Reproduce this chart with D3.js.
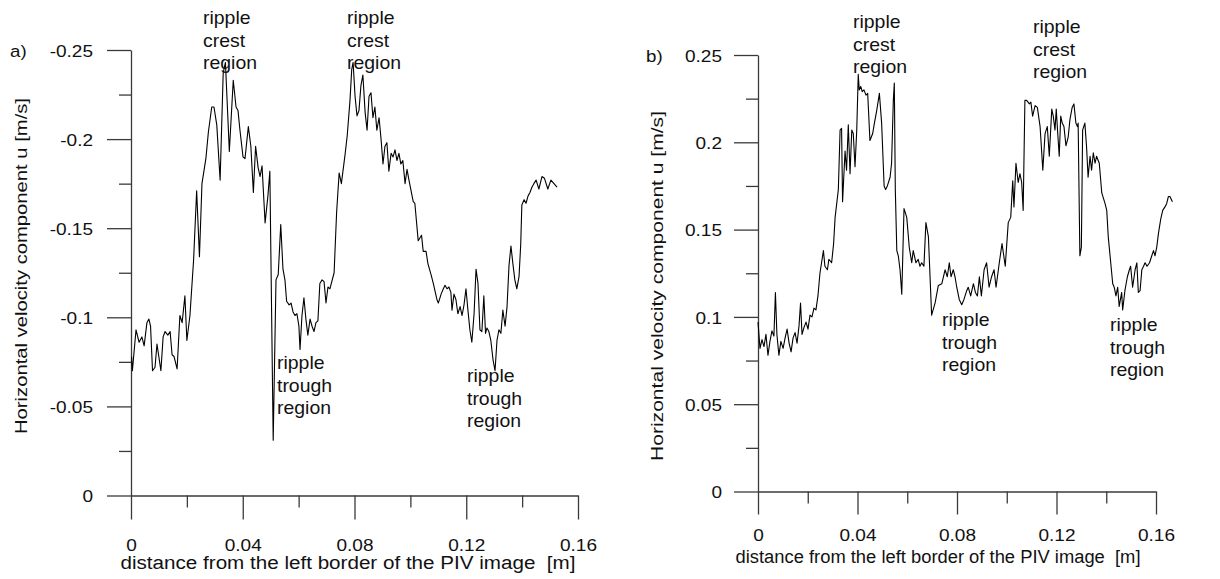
<!DOCTYPE html>
<html>
<head>
<meta charset="utf-8">
<script src="https://cdn.jsdelivr.net/npm/d3@7/dist/d3.min.js"></script>
<style>
  html, body { margin: 0; padding: 0; background: #fff; }
  svg { display: block; font-family: "Liberation Sans", Arial, sans-serif; }
</style>
</head>
<body>
<div class="canva"></div>
<script>
// ---- data ----
// a) distance [m] and u [m/s] (negative, axis reversed)
const leftX = [0.0002,0.0005,0.0018,0.0029,0.0039,0.0047,0.0057,0.0064,0.0070,0.0077,0.0086,0.0093,0.0107,0.0115,0.0122,0.0132,0.0140,0.0147,0.0154,0.0165,
  0.0175,0.0183,0.0193,0.0200,0.0211,0.0224,0.0235,0.0245,0.0254,0.0268,0.0277,0.0289,0.0297,0.0307,0.0319,0.0330,0.0338,0.0352,0.0366,0.0376,
  0.0383,0.0390,0.0401,0.0408,0.0420,0.0429,0.0438,0.0446,0.0455,0.0462,0.0469,0.0480,0.0490,0.0497,0.0509,0.0519,0.0527,0.0536,0.0544,0.0551,
  0.0557,0.0566,0.0573,0.0580,0.0587,0.0594,0.0601,0.0605,0.0612,0.0619,0.0626,0.0633,0.0641,0.0648,0.0655,0.0662,0.0669,0.0676,0.0684,0.0691,
  0.0698,0.0705,0.0712,0.0727,0.0736,0.0745,0.0753,0.0766,0.0774,0.0784,0.0790,0.0795,0.0802,0.0809,0.0816,0.0823,0.0830,0.0838,0.0845,0.0852,
  0.0859,0.0866,0.0873,0.0880,0.0888,0.0895,0.0902,0.0909,0.0916,0.0923,0.0931,0.0938,0.0945,0.0952,0.0959,0.0966,0.0973,0.0981,0.0988,0.0995,
  0.1010,0.1016,0.1028,0.1040,0.1046,0.1056,0.1063,0.1074,0.1082,0.1095,0.1100,0.1110,0.1118,0.1124,0.1131,0.1138,0.1145,0.1149,0.1156,0.1163,
  0.1170,0.1178,0.1185,0.1192,0.1199,0.1206,0.1213,0.1220,0.1228,0.1235,0.1242,0.1249,0.1256,0.1263,0.1269,0.1274,0.1281,0.1288,0.1296,0.1303,
  0.1310,0.1317,0.1324,0.1331,0.1339,0.1346,0.1353,0.1360,0.1367,0.1374,0.1381,0.1389,0.1395,0.1399,0.1407,0.1414,0.1421,0.1428,0.1435,0.1442,
  0.1450,0.1460,0.1471,0.1480,0.1492,0.1503,0.1514,0.1525];
const leftU = [-0.078,-0.070,-0.093,-0.086,-0.089,-0.084,-0.097,-0.099,-0.095,-0.070,-0.072,-0.085,-0.070,-0.089,-0.092,-0.090,-0.092,-0.079,-0.078,-0.071,
  -0.101,-0.097,-0.112,-0.087,-0.101,-0.132,-0.171,-0.134,-0.175,-0.189,-0.204,-0.218,-0.218,-0.208,-0.177,-0.237,-0.243,-0.193,-0.233,-0.218,
  -0.216,-0.205,-0.190,-0.189,-0.207,-0.196,-0.170,-0.196,-0.184,-0.179,-0.185,-0.153,-0.168,-0.182,-0.031,-0.121,-0.124,-0.152,-0.127,-0.121,
  -0.109,-0.107,-0.108,-0.103,-0.101,-0.102,-0.095,-0.082,-0.101,-0.111,-0.099,-0.090,-0.099,-0.095,-0.092,-0.097,-0.098,-0.119,-0.121,-0.120,
  -0.108,-0.117,-0.116,-0.125,-0.159,-0.181,-0.175,-0.191,-0.202,-0.222,-0.239,-0.243,-0.224,-0.213,-0.216,-0.230,-0.236,-0.215,-0.205,-0.224,
  -0.226,-0.212,-0.218,-0.205,-0.212,-0.200,-0.186,-0.196,-0.198,-0.182,-0.192,-0.190,-0.194,-0.188,-0.192,-0.186,-0.188,-0.175,-0.183,-0.177,
  -0.165,-0.164,-0.143,-0.146,-0.137,-0.137,-0.130,-0.124,-0.119,-0.110,-0.108,-0.113,-0.116,-0.118,-0.116,-0.117,-0.114,-0.104,-0.113,-0.110,
  -0.102,-0.106,-0.101,-0.107,-0.116,-0.104,-0.093,-0.086,-0.102,-0.127,-0.119,-0.093,-0.092,-0.112,-0.091,-0.094,-0.092,-0.087,-0.076,-0.070,
  -0.087,-0.093,-0.091,-0.104,-0.095,-0.106,-0.129,-0.140,-0.130,-0.121,-0.116,-0.123,-0.141,-0.163,-0.166,-0.164,-0.168,-0.170,-0.173,-0.175,
  -0.177,-0.172,-0.179,-0.178,-0.172,-0.177,-0.175,-0.173];

// b) distance [m] and u [m/s]
const rightX = [0.0000,0.0008,0.0016,0.0024,0.0032,0.0040,0.0048,0.0056,0.0064,0.0070,0.0076,0.0084,0.0092,0.0101,0.0109,0.0117,0.0125,0.0133,0.0141,0.0149,
  0.0157,0.0165,0.0171,0.0177,0.0185,0.0193,0.0201,0.0209,0.0217,0.0225,0.0233,0.0241,0.0249,0.0263,0.0269,0.0279,0.0285,0.0296,0.0304,0.0310,
  0.0323,0.0330,0.0336,0.0340,0.0350,0.0356,0.0363,0.0370,0.0377,0.0383,0.0390,0.0397,0.0403,0.0407,0.0413,0.0419,0.0426,0.0434,0.0441,0.0450,
  0.0461,0.0468,0.0477,0.0488,0.0497,0.0507,0.0513,0.0520,0.0531,0.0537,0.0544,0.0548,0.0552,0.0558,0.0564,0.0571,0.0578,0.0587,0.0598,0.0608,
  0.0618,0.0624,0.0635,0.0644,0.0651,0.0658,0.0667,0.0675,0.0685,0.0698,0.0712,0.0725,0.0739,0.0752,0.0761,0.0769,0.0776,0.0785,0.0792,0.0799,
  0.0809,0.0819,0.0828,0.0839,0.0845,0.0855,0.0866,0.0874,0.0882,0.0890,0.0898,0.0909,0.0919,0.0929,0.0939,0.0949,0.0957,0.0970,0.0981,0.0994,
  0.1006,0.1016,0.1024,0.1029,0.1037,0.1046,0.1053,0.1060,0.1066,0.1073,0.1080,0.1091,0.1097,0.1104,0.1114,0.1123,0.1134,0.1145,0.1154,0.1163,
  0.1171,0.1181,0.1187,0.1194,0.1199,0.1205,0.1211,0.1217,0.1223,0.1230,0.1238,0.1247,0.1254,0.1263,0.1270,0.1278,0.1284,0.1287,0.1294,0.1300,
  0.1305,0.1314,0.1321,0.1327,0.1335,0.1341,0.1348,0.1355,0.1361,0.1372,0.1382,0.1395,0.1402,0.1408,0.1418,0.1426,0.1432,0.1439,0.1446,0.1452,
  0.1462,0.1466,0.1475,0.1485,0.1493,0.1498,0.1506,0.1516,0.1523,0.1529,0.1536,0.1543,0.1550,0.1556,0.1564,0.1574,0.1583,0.1590,0.1596,0.1603,
  0.1610,0.1619,0.1627,0.1636,0.1643,0.1650,0.1656,0.1666];
const rightU = [0.097,0.082,0.087,0.083,0.090,0.078,0.086,0.092,0.089,0.114,0.090,0.078,0.086,0.082,0.088,0.093,0.085,0.080,0.088,0.091,
  0.085,0.095,0.108,0.090,0.094,0.097,0.093,0.101,0.100,0.105,0.104,0.112,0.125,0.138,0.129,0.127,0.133,0.131,0.142,0.157,
  0.173,0.207,0.208,0.166,0.195,0.184,0.210,0.182,0.207,0.205,0.186,0.207,0.239,0.230,0.232,0.229,0.230,0.227,0.228,0.201,
  0.205,0.211,0.218,0.228,0.211,0.175,0.173,0.175,0.180,0.188,0.224,0.234,0.173,0.138,0.135,0.127,0.113,0.162,0.157,0.140,
  0.131,0.138,0.131,0.133,0.129,0.131,0.129,0.154,0.146,0.101,0.108,0.118,0.119,0.127,0.123,0.131,0.123,0.127,0.123,0.117,
  0.110,0.107,0.110,0.115,0.117,0.112,0.119,0.114,0.112,0.123,0.112,0.127,0.131,0.117,0.123,0.127,0.117,0.131,0.142,0.129,
  0.154,0.157,0.178,0.163,0.188,0.177,0.182,0.177,0.161,0.224,0.224,0.222,0.223,0.215,0.221,0.220,0.209,0.184,0.205,0.209,
  0.192,0.219,0.215,0.207,0.219,0.205,0.192,0.215,0.211,0.209,0.198,0.203,0.213,0.220,0.222,0.211,0.209,0.211,0.135,0.140,
  0.207,0.211,0.197,0.180,0.192,0.184,0.194,0.188,0.192,0.188,0.171,0.165,0.161,0.146,0.131,0.119,0.117,0.112,0.117,0.106,
  0.114,0.104,0.115,0.123,0.127,0.129,0.117,0.127,0.131,0.114,0.115,0.127,0.129,0.131,0.129,0.131,0.135,0.138,0.135,0.140,
  0.148,0.156,0.161,0.163,0.165,0.169,0.169,0.166];

// ticks
const xTicks = [0, 0.04, 0.08, 0.12, 0.16];
const xTickLabels = ["0", "0.04", "0.08", "0.12", "0.16"];
const xMinorTicks = [0.02, 0.06, 0.10, 0.14];
const leftYTicks = [0, -0.05, -0.1, -0.15, -0.2, -0.25];
const leftYTickLabels = ["0", "-0.05", "-0.1", "-0.15", "-0.2", "-0.25"];
const leftYMinor = [-0.025, -0.075, -0.125, -0.175, -0.225];
const rightYTicks = [0, 0.05, 0.1, 0.15, 0.2, 0.25];
const rightYTickLabels = ["0", "0.05", "0.1", "0.15", "0.2", "0.25"];
const rightYMinor = [0.025, 0.075, 0.125, 0.175, 0.225];

const xTitle = "distance from the left border of the PIV image\u00a0\u00a0[m]";
const yTitle = "Horizontal velocity component u [m/s]";

const width = 1220, height = 579;
const svg = d3.select(".canva").append("svg")
    .attr("width", width)
    .attr("height", height);

const axisColor = "#3a3a3a";
const textColor = "#111";

// text a little wider than the font (the picture is stretched)
function stretchedText(parent, x, y, str, size, sx) {
    return parent.append("text")
        .attr("transform", `translate(${x},${y}) scale(${sx},1)`)
        .attr("font-size", size)
        .attr("fill", textColor)
        .text(str);
}

function drawPanel(p) {
    const x = d3.scaleLinear().domain([0, 0.16]).range([p.left, p.right]);
    const y = d3.scaleLinear().domain(p.yDomain).range([p.bottom, p.top]);

    // x axis, major + minor ticks
    const gx = svg.append("g").attr("transform", `translate(0,${p.bottom})`);
    gx.call(d3.axisBottom(x).tickValues(xTicks).tickSize(p.tickLen).tickSizeOuter(0)
        .tickFormat((d, i) => xTickLabels[i]).tickPadding(p.xLabelPad));
    gx.append("g").call(d3.axisBottom(x).tickValues(xMinorTicks).tickSize(12).tickSizeOuter(0).tickFormat(""))
        .select(".domain").remove();
    gx.selectAll(".tick text")
        .attr("font-size", 17)
        .attr("fill", textColor)
        .attr("x", 0)
        .attr("transform", "scale(1.12,1)");

    // y axis
    const gy = svg.append("g").attr("transform", `translate(${p.left},0)`);
    gy.call(d3.axisLeft(y).tickValues(p.yTicks).tickSize(24).tickSizeOuter(0)
        .tickFormat((d, i) => p.yTickLabels[i]));
    gy.append("g").call(d3.axisLeft(y).tickValues(p.yMinor).tickSize(12).tickSizeOuter(0).tickFormat(""))
        .select(".domain").remove();
    gy.selectAll(".tick text")
        .attr("font-size", 17)
        .attr("fill", textColor)
        .attr("x", 0)
        .attr("dy", "0.36em")
        .attr("transform", `translate(${p.yLabelX},0) scale(1.12,1)`);

    svg.selectAll(".domain, .tick line")
        .attr("stroke", axisColor)
        .attr("stroke-width", 1.3);
    gx.attr("font-family", null);
    gy.attr("font-family", null);

    // the profile
    const pts = p.xs.map((d, i) => [d, p.us[i]]);
    const valueLine = d3.line().x(d => x(d[0])).y(d => y(d[1]));
    svg.append("path")
        .datum(pts)
        .attr("d", valueLine)
        .attr("fill", "none")
        .attr("stroke", "#000")
        .attr("stroke-width", 1.1)
        .attr("stroke-linejoin", "round");

    // axis titles
    svg.append("text")
        .attr("x", p.xTitleX).attr("y", p.xTitleY)
        .attr("text-anchor", "middle")
        .attr("font-size", 18)
        .attr("fill", textColor)
        .attr("textLength", p.xTitleLen)
        .attr("lengthAdjust", "spacingAndGlyphs")
        .text(xTitle);

    svg.append("text")
        .attr("transform", `translate(${p.yTitleX},${p.yTitleY}) rotate(-90)`)
        .attr("text-anchor", "middle")
        .attr("font-size", 17)
        .attr("fill", textColor)
        .attr("textLength", p.yTitleLen)
        .attr("lengthAdjust", "spacingAndGlyphs")
        .text(yTitle);

    // panel letter
    stretchedText(svg, p.tagX, p.tagY, p.tag, 17, 1.1);

    // annotations
    p.notes.forEach(n => {
        n.lines.forEach((s, i) => {
            stretchedText(svg, n.x, n.y + i * 22.5, s, 18, 1.08);
        });
    });
}

drawPanel({
    xs: leftX, us: leftU,
    left: 131, right: 578, bottom: 495.5, top: 50,
    yDomain: [0, -0.25], yTicks: leftYTicks, yTickLabels: leftYTickLabels, yMinor: leftYMinor,
    tickLen: 24, xLabelPad: 19, yLabelX: -38,
    xTitleX: 348, xTitleY: 569, xTitleLen: 455,
    yTitleX: 27, yTitleY: 266, yTitleLen: 336,
    tag: "a)", tagX: 10, tagY: 57,
    notes: [
        {x: 203, y: 24, lines: ["ripple", "crest", "region"]},
        {x: 347, y: 24, lines: ["ripple", "crest", "region"]},
        {x: 277, y: 369, lines: ["ripple", "trough", "region"]},
        {x: 467, y: 382, lines: ["ripple", "trough", "region"]}
    ]
});

drawPanel({
    xs: rightX, us: rightU,
    left: 758, right: 1156, bottom: 491.5, top: 55,
    yDomain: [0, 0.25], yTicks: rightYTicks, yTickLabels: rightYTickLabels, yMinor: rightYMinor,
    tickLen: 23, xLabelPad: 14, yLabelX: -36,
    xTitleX: 938, xTitleY: 563, xTitleLen: 405,
    yTitleX: 663, yTitleY: 286, yTitleLen: 350,
    tag: "b)", tagX: 646, tagY: 62,
    notes: [
        {x: 853, y: 28, lines: ["ripple", "crest", "region"]},
        {x: 1033, y: 33, lines: ["ripple", "crest", "region"]},
        {x: 942, y: 326, lines: ["ripple", "trough", "region"]},
        {x: 1110, y: 331, lines: ["ripple", "trough", "region"]}
    ]
});
</script>
</body>
</html>
